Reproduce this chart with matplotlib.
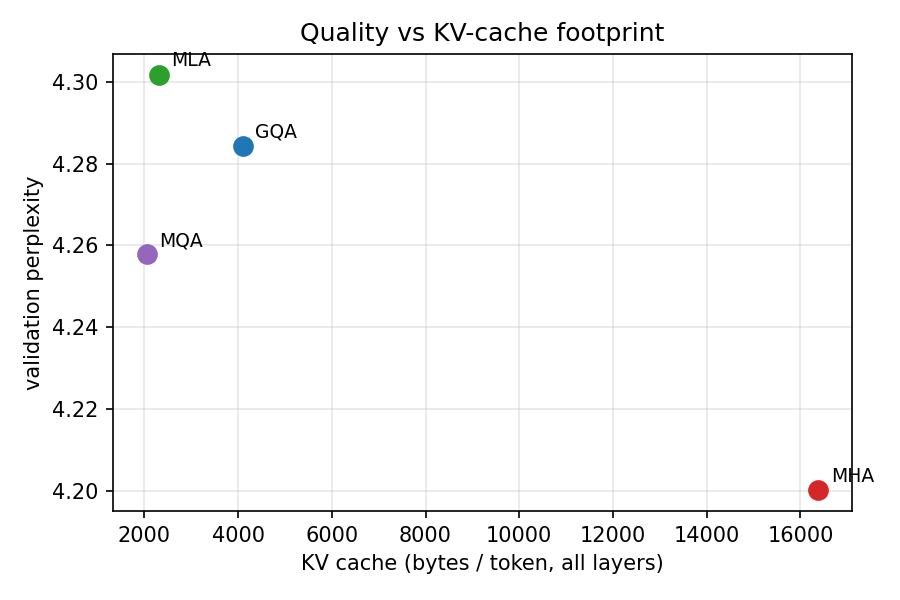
import matplotlib
matplotlib.use("Agg")
import matplotlib.pyplot as plt

# attention variants: KV cache bytes/token vs validation perplexity
names = ["MHA", "GQA", "MQA", "MLA"]
kv_bytes = [16384, 4096, 2048, 2304]
ppl = [4.2002, 4.2844, 4.2578, 4.3017]
colors = ["tab:red", "tab:blue", "tab:purple", "tab:green"]

fig, ax = plt.subplots(figsize=(6, 4), dpi=150)
for n, x, y, c in zip(names, kv_bytes, ppl, colors):
    ax.scatter(x, y, s=80, color=c, zorder=3)
    ax.annotate(n, (x, y), textcoords="offset points", xytext=(6, 4), fontsize=9)

ax.set_xlabel("KV cache (bytes / token, all layers)")
ax.set_ylabel("validation perplexity")
ax.set_title("Quality vs KV-cache footprint")
ax.grid(alpha=0.3)
fig.subplots_adjust(left=0.1256, right=0.9467, top=0.91, bottom=0.1483)
fig.savefig("out.png")
